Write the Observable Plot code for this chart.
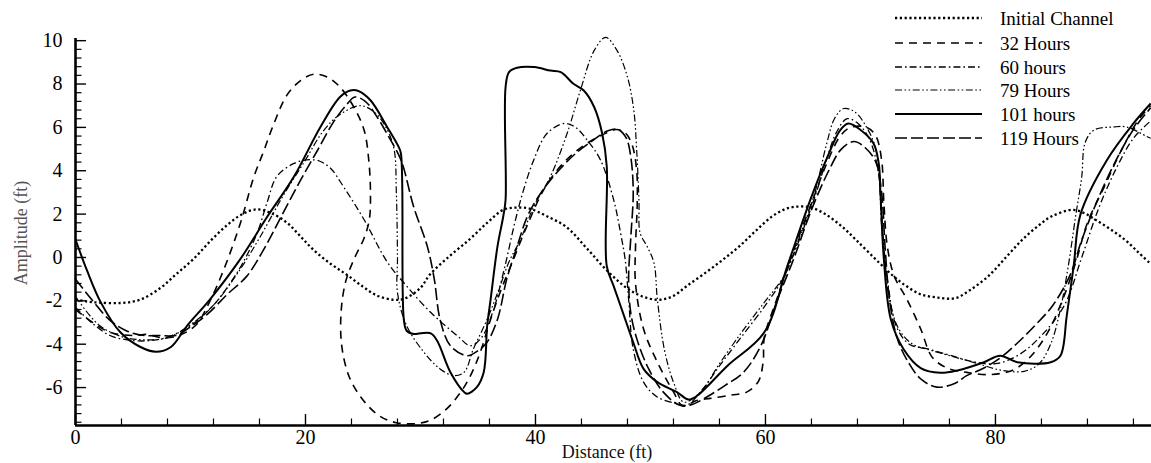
<!DOCTYPE html>
<html>
<head>
<meta charset="utf-8">
<script src="https://cdn.jsdelivr.net/npm/d3@7"></script>
<script src="https://cdn.jsdelivr.net/npm/@observablehq/plot@0.6"></script>
<style>
  html, body { margin: 0; padding: 0; background: #fff; }
  #chart { width: 1151px; height: 463px; }
  #chart svg, #chart svg text { font-family: "Liberation Serif", "Times New Roman", "DejaVu Serif", serif !important; }
</style>
</head>
<body>
<div id="chart"></div>
<script>
// ---------------- data ----------------
const xTicks = [0, 20, 40, 60, 80];
const yTicks = [-6, -4, -2, 0, 2, 4, 6, 8, 10];
const seriesNames = ["Initial Channel", "32 Hours", "60 hours", "79 Hours", "101 hours", "119 Hours"];

const initialChannel = [[0,-1.93],[1,-2.03],[2,-2.08],[3.9,-2.1],[5.6,-1.95],[7.4,-1.4],[8.8,-0.75],[10.3,-0.05],[11.8,0.8],[13.2,1.5],[14.5,2.0],[15.8,2.22],[17,2.05],[18.4,1.6],[19.6,0.95],[20.7,0.35],[22.2,-0.3],[23.6,-0.8],[25,-1.35],[26.2,-1.75],[27.6,-1.95],[28.6,-1.9],[30,-1.4],[30.8,-0.8],[32.5,0.05],[34.3,0.85],[35.8,1.6],[37.2,2.2],[38.3,2.3],[39.5,2.25],[41,1.9],[42.7,1.4],[44.5,0.4],[46.4,-0.7],[48.5,-1.6],[50.5,-1.95],[51.9,-1.8],[53.2,-1.3],[54.8,-0.7],[56.3,-0.1],[57.7,0.5],[59.2,1.25],[60.6,1.9],[61.8,2.25],[62.9,2.35],[64,2.3],[65.2,2.0],[66.6,1.45],[67.9,0.8],[69.9,-0.25],[71.1,-0.85],[72.2,-1.3],[73.5,-1.7],[75,-1.85],[76.5,-1.88],[77.8,-1.5],[79.4,-0.85],[80.9,0],[82.3,0.8],[83.7,1.45],[84.9,1.9],[86.7,2.2],[87.7,2.05],[88.7,1.74],[90,1.3],[91.3,0.8],[92.4,0.25],[93.5,-0.3]];

const hours32 = [[0,-2.4],[1.5,-3.0],[3,-3.45],[5,-3.6],[6.2,-3.55],[7.5,-3.7],[9,-3.6],[10.5,-3.1],[11.7,-2.0],[12.9,-0.55],[14.35,1.6],[15.5,3.7],[16.4,4.95],[17.2,6.1],[18.4,7.5],[19.6,8.17],[20.7,8.45],[21.9,8.32],[23,7.86],[24.2,6.94],[25.1,5.87],[25.5,4.5],[25.65,2.97],[25.55,1.74],[25.1,0.9],[24.2,-0.1],[23.5,-1.1],[23.1,-2.5],[23.15,-4.07],[23.8,-5.5],[24.9,-6.5],[26.4,-7.3],[27.9,-7.62],[29.7,-7.66],[30.9,-7.5],[32.3,-6.97],[33.5,-6.21],[34.35,-5.45],[35.2,-4.37],[36.1,-2.85],[37,-1.5],[38,-0.2],[39.3,1.5],[40.8,3.2],[42.5,4.4],[44.3,5.2],[45.8,5.65],[47,5.9],[47.8,5.75],[48.4,5.2],[48.8,4.0],[48.85,2.5],[48.7,0.5],[48.7,-1.2],[49.4,-3.3],[50.6,-4.83],[52,-6.2],[52.8,-6.85],[54,-6.6],[55.2,-6.5],[57,-6.35],[58.4,-6.2],[59.4,-5.7],[59.8,-4.8],[59.9,-3.7],[61,-1.9],[62.5,0.4],[64,2.5],[65.3,4.3],[66.5,5.6],[67.4,6.0],[68.8,6.0],[69.6,5.6],[70.1,4.5],[70.3,2.5],[70.6,0.5],[71.2,-0.86],[72.3,-1.93],[73.5,-3.3],[74.5,-4.6],[75.8,-5.1],[77.5,-5.3],[79.5,-5.4],[81.5,-5.2],[83,-4.6],[84.5,-3.5],[85.8,-2.0],[87,-0.2],[88,1.6],[89.5,3.3],[91,5.0],[92.5,6.4],[93.5,7.0]];

const hours60 = [[0,-2.3],[1.5,-3.05],[3,-3.6],[4.5,-3.8],[6,-3.85],[7.5,-3.75],[9,-3.45],[10.5,-2.95],[12,-2.2],[13.3,-1.3],[14.5,-0.3],[15.8,1.13],[16.7,2.6],[17.5,3.73],[19,4.34],[20.1,4.5],[21.2,4.45],[22.2,4.1],[23.3,3.27],[25.1,1.74],[27.1,-0.2],[28.8,-1.32],[30.9,-2.54],[33.2,-3.61],[34.35,-4.07],[35.3,-3.7],[36.3,-2.5],[37.3,-0.5],[38.2,1.6],[38.9,3.0],[39.85,4.5],[41,5.72],[42.5,6.18],[43.5,6.0],[44.5,5.41],[45.65,4.5],[46.8,2.66],[47.4,1.13],[47.8,-0.1],[48.1,-1.93],[48.5,-4.22],[49.4,-5.75],[50.6,-6.44],[52.3,-6.74],[53.2,-6.8],[54.5,-6.1],[56,-5.0],[58,-3.6],[60,-2.2],[61.6,-0.9],[63,0.9],[64.3,2.8],[65.3,4.5],[66.2,5.8],[67.1,6.4],[68,6.2],[69,5.5],[69.8,4.0],[70.1,1.5],[70.6,-1.0],[71.4,-3.2],[72.5,-4.0],[74,-4.2],[76,-4.5],[78,-4.8],[80,-4.9],[82,-4.5],[84,-3.6],[86,-2.2],[87.5,0],[89,2.3],[90.5,4.1],[92,5.5],[93.5,6.3]];

const hours79 = [[0,-1.8],[2,-3.1],[4,-3.65],[6,-3.8],[8,-3.7],[10,-3.1],[12,-2.2],[14,-0.8],[16,0.9],[18,2.8],[20,4.5],[21.5,5.8],[23,6.6],[24.8,7.0],[26,6.7],[27,6.0],[27.7,5.0],[27.9,3.0],[28,0],[28,-1.62],[28.8,-3.15],[30.3,-4.37],[31.7,-5.14],[32.9,-5.45],[33.8,-5.29],[34.6,-4.22],[35.8,-2.85],[36.8,-1.5],[37.7,-0.2],[38.7,0.83],[39.85,2.35],[41.3,3.73],[42.75,5.72],[43.9,7.7],[45.1,9.54],[46.1,10.15],[47.1,9.54],[48,8.32],[48.55,6.79],[48.8,4.95],[49,2.66],[49.1,1.13],[49.7,0.52],[50.3,-0.24],[50.6,-1.93],[51.2,-4.22],[52,-5.75],[52.9,-6.67],[54.35,-6.21],[56,-4.9],[58,-3.4],[60,-2.0],[61.6,-0.86],[63,1.0],[64.3,3.0],[65.3,5.2],[66,6.4],[66.8,6.87],[67.8,6.7],[68.8,6.0],[69.6,5.0],[70,3.0],[70.3,0.5],[70.8,-2.0],[71.6,-3.3],[72.8,-4.0],[74.5,-4.3],[76.5,-4.6],[78.5,-4.9],[80.5,-5.2],[82.5,-5.25],[83.8,-4.9],[84.8,-4.0],[85.6,-2.5],[86.3,-0.5],[87,2.0],[87.5,3.7],[87.8,5.3],[88.55,5.87],[90.3,6.02],[91.4,6.02],[93.2,5.57],[93.5,5.5]];

const hours101 = [[0,0.83],[1,-0.6],[2.2,-2.07],[3.9,-3.45],[5.65,-4.13],[7,-4.35],[8.3,-4.13],[9.7,-3.15],[11.7,-1.93],[14.3,-0.1],[16.7,1.9],[19,3.73],[21.3,6.02],[23,7.4],[23.9,7.7],[24.6,7.68],[25.65,7.25],[27.1,6.02],[28.1,5.1],[28.3,4.8],[28.55,-2.85],[28.8,-3.38],[29.4,-3.53],[30,-3.5],[30.9,-3.5],[31.45,-3.84],[32.6,-5.29],[33.8,-6.21],[34.06,-6.29],[34.9,-5.98],[35.5,-5.29],[35.8,-3.15],[36.1,-1.93],[36.7,0.52],[37.2,1.9],[37.4,2.66],[37.4,7.86],[37.7,8.55],[38.4,8.75],[39.9,8.78],[41.3,8.62],[42.2,8.55],[43.3,8.01],[44.2,7.7],[45.1,6.94],[45.8,5.72],[46.2,4.19],[46.2,-0.4],[46.8,-1.32],[47.7,-2.69],[48.5,-3.91],[49.4,-5.14],[50.6,-5.75],[52.3,-6.21],[53.3,-6.55],[54,-6.4],[56.7,-4.99],[59.9,-3.45],[61.9,-0.4],[63.9,2.66],[65.4,4.65],[66.5,5.87],[67.2,6.18],[68.3,5.87],[69.4,5.26],[69.85,4.34],[70,2.97],[70.3,-0.1],[70.9,-2.85],[72,-4.22],[73.5,-5.1],[75.2,-5.32],[76.7,-5.21],[79,-4.83],[80.4,-4.53],[81.9,-4.83],[84.8,-4.83],[85.65,-4.53],[86.2,-2.69],[86.8,-0.4],[87.4,2.0],[89.7,4.5],[92,6.18],[93.5,7.1]];

const hours119 = [[0,-1.0],[1.5,-2.0],[3,-2.9],[4.5,-3.4],[6,-3.6],[7.4,-3.6],[8.7,-3.6],[10,-3.2],[11.5,-2.6],[13.2,-1.7],[14.9,-0.86],[16.4,0.4],[18,2.0],[19.5,3.5],[21,4.9],[22.5,6.3],[23.5,7.0],[24.3,7.4],[25.2,7.2],[26.2,6.5],[27.2,5.6],[28.3,4.5],[29.4,2.35],[30.6,0.5],[31.2,-1.0],[31.7,-2.85],[32.6,-4.07],[34.06,-4.53],[35,-4.3],[35.8,-3.9],[36.7,-2.85],[37.5,-1.0],[38.4,0.5],[39.3,1.9],[40.5,3.0],[42,4.0],[43.5,4.8],[45,5.4],[46.3,5.85],[47.2,5.9],[47.9,5.5],[48.3,4.6],[48.5,3.0],[48.3,1.0],[48.1,-1.0],[48.3,-2.6],[48.9,-3.9],[49.9,-5.2],[51.1,-6.2],[52.5,-6.8],[53.5,-6.8],[55,-6.4],[56.5,-5.9],[58.1,-5.29],[59.6,-4.07],[61,-2.0],[62.5,0],[64,2.2],[65.5,4.0],[66.6,5.0],[67.7,5.35],[68.7,5.05],[69.6,4.4],[70.1,3.0],[70.4,0.5],[70.8,-2.0],[71.5,-3.8],[72.5,-4.9],[73.5,-5.6],[74.9,-5.98],[76.5,-5.8],[77.5,-5.45],[79,-5.1],[80.5,-4.6],[82,-3.9],[83.5,-3.1],[85,-2.2],[86.5,-0.8],[87.5,0.8],[89,2.8],[90.5,4.5],[92,5.9],[93.5,6.9]];

// ---------------- layout / styles ----------------
const W = 1151, H = 463, ML = 75, MR = 0, MT = 38, MB = 38;
const xDomain = [0, 93.57], yDomain = [-7.75, 10.1];
const xPerPx = (xDomain[1] - xDomain[0]) / (W - ML - MR);
const yPerPx = (yDomain[1] - yDomain[0]) / (H - MT - MB);
const FONT = "Liberation Serif, Times New Roman, DejaVu Serif, serif";

const styles = [
  {data: initialChannel, width: 2.3, dash: "2.2,2.6"},
  {data: hours32,  width: 1.6, dash: "8,6"},
  {data: hours60,  width: 1.3, dash: "7,3,1.6,3"},
  {data: hours79,  width: 1.2, dash: "7,2.5,1.6,2.5,1.6,2.5"},
  {data: hours101, width: 2.0, dash: null},
  {data: hours119, width: 1.6, dash: "12,4"}
];

const xMinor = d3.range(4, 93, 4).filter(v => v % 20 !== 0);
const yMinor = d3.range(-7.6, 10.01, 0.4).map(v => +v.toFixed(1)).filter(v => Math.abs(v / 2 - Math.round(v / 2)) > 1e-6);

const MAJ = 11, MIN = 6.5;

const lineMarks = styles.map(s => Plot.line(s.data, {
  x: d => d[0], y: d => d[1],
  stroke: "#000", strokeWidth: s.width,
  strokeDasharray: s.dash || undefined,
  strokeLinecap: "butt", strokeLinejoin: "round",
  curve: "catmull-rom"
}));

const svg = Plot.plot({
  width: W, height: H,
  marginLeft: ML, marginRight: MR, marginTop: MT, marginBottom: MB,
  x: {domain: xDomain, axis: null},
  y: {domain: yDomain, axis: null},
  style: {fontFamily: FONT, fontSize: "20px", color: "#000", background: "#fff", overflow: "visible"},
  marks: [
    ...lineMarks,
    // inward ticks
    Plot.ruleY(yTicks, {y: d => d, x1: xDomain[0], x2: xDomain[0] + MAJ * xPerPx, stroke: "#000", strokeWidth: 1.4}),
    Plot.ruleY(yMinor, {y: d => d, x1: xDomain[0], x2: xDomain[0] + MIN * xPerPx, stroke: "#000", strokeWidth: 1.2}),
    Plot.ruleX(xTicks, {x: d => d, y1: yDomain[0], y2: yDomain[0] + MAJ * yPerPx, stroke: "#000", strokeWidth: 1.4}),
    Plot.ruleX(xMinor, {x: d => d, y1: yDomain[0], y2: yDomain[0] + MIN * yPerPx, stroke: "#000", strokeWidth: 1.2}),
    // axis lines
    Plot.ruleX([xDomain[0]], {stroke: "#000", strokeWidth: 2.6}),
    Plot.ruleY([yDomain[0]], {stroke: "#000", strokeWidth: 2.6}),
    // tick labels
    Plot.text(yTicks, {x: xDomain[0], y: d => d, text: d => String(d), dx: -13, textAnchor: "end", fontSize: 20, fill: "#000"}),
    Plot.text(xTicks, {x: d => d, y: yDomain[0], text: d => String(d), dy: 4, lineAnchor: "top", fontSize: 20, fill: "#000"})
  ]
});

document.getElementById("chart").appendChild(svg);

const s = d3.select(svg);
// axis titles
s.append("text")
  .attr("transform", "translate(21,233) rotate(-90)")
  .attr("text-anchor", "middle").attr("dy", "0.35em")
  .attr("font-size", 18).attr("fill", "#555")
  .text("Amplitude (ft)");
s.append("text")
  .attr("x", 607).attr("y", 458)
  .attr("text-anchor", "middle")
  .attr("font-size", 18).attr("fill", "#111")
  .text("Distance (ft)");

// legend
const lg = s.append("g").attr("class", "legend").attr("text-anchor", "start");
const rowY = [18, 43, 67, 90, 114, 138];
styles.forEach((st, i) => {
  lg.append("line")
    .attr("x1", 895).attr("x2", 982).attr("y1", rowY[i]).attr("y2", rowY[i])
    .attr("stroke", "#000").attr("stroke-width", st.width)
    .attr("stroke-dasharray", st.dash || null)
    .attr("stroke-linecap", "butt");
  lg.append("text")
    .attr("x", 1000).attr("y", rowY[i]).attr("dy", "0.35em")
    .attr("text-anchor", "start")
    .attr("font-size", 19).attr("fill", "#000")
    .text(seriesNames[i]);
});
</script>
</body>
</html>
